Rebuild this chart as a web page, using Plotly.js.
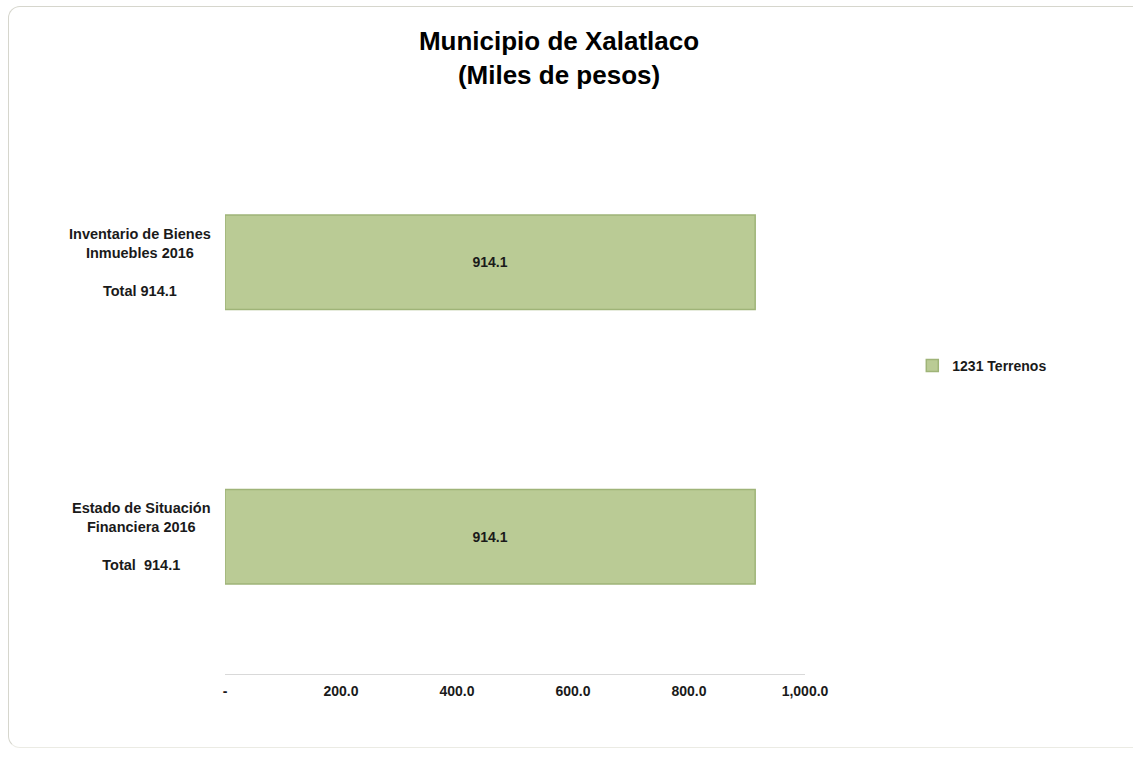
<!DOCTYPE html>
<html>
<head>
<meta charset="utf-8">
<script src="https://cdn.plot.ly/plotly-3.0.1.min.js"></script>
<style>
  html, body { margin: 0; padding: 0; background: #ffffff; }
  #wrap { position: relative; width: 1133px; height: 757px; overflow: hidden; }
  #chart { position: absolute; left: 0; top: 0; width: 1133px; height: 757px; }
  #frame { position: absolute; left: 8px; top: 6px; width: 1140px; height: 742px;
           border: 1px solid #d6d6cd; border-bottom-color: #ebebe4; border-radius: 12px;
           pointer-events: none; box-sizing: border-box; }
</style>
</head>
<body>
<div id="wrap">
  <div id="chart"></div>
  <div id="frame"></div>
</div>
<script>
// Data
const categories = ["Estado de Situación Financiera 2016", "Inventario de Bienes Inmuebles 2016"];
const categoryLabels = [
  "Estado de Situación<br>Financiera 2016<br><br>Total  914.1",
  "Inventario de Bienes<br>Inmuebles 2016<br><br>Total 914.1"
];
const seriesName = "1231 Terrenos";
const seriesValues = [914.1, 914.1];
const valueLabels = ["914.1", "914.1"];
const xTickVals = [0, 200, 400, 600, 800, 1000];
const xTickText = ["-", "200.0", "400.0", "600.0", "800.0", "1,000.0"];

const FONT = "Liberation Sans, Arial, sans-serif";

const trace = {
  type: "bar",
  orientation: "h",
  name: seriesName,
  y: categories,
  x: seriesValues,
  text: valueLabels,
  textposition: "inside",
  insidetextanchor: "middle",
  textangle: 0,
  textfont: { family: FONT, size: 14, color: "#1a1a1a", weight: "bold" },
  marker: { color: "#bacb95", line: { color: "#9fb478", width: 1.5 } },
  width: 0.345,
  hoverinfo: "skip"
};

const annotations = categories.map((c, i) => ({
  xref: "paper", yref: "y", x: 0, y: c,
  xanchor: "right", yanchor: "middle", xshift: -12,
  align: "center", showarrow: false,
  text: categoryLabels[i],
  font: { family: FONT, size: 14.5, color: "#1a1a1a", weight: "bold" }
}));

const layout = {
  width: 1133, height: 757,
  paper_bgcolor: "rgba(0,0,0,0)",
  plot_bgcolor: "rgba(0,0,0,0)",
  margin: { l: 225, r: 328, t: 125, b: 83 },
  showlegend: true,
  title: {
    text: "Municipio de Xalatlaco<br>(Miles de pesos)",
    font: { family: FONT, size: 26, color: "#000000", weight: "bold" },
    xref: "container", x: 0.4934, xanchor: "center",
    yref: "container", y: 0.934, yanchor: "middle"
  },
  xaxis: {
    range: [0, 1000],
    tickvals: xTickVals,
    ticktext: xTickText,
    showgrid: false,
    zeroline: false,
    showline: true,
    linecolor: "#d9d9d9",
    linewidth: 1,
    ticks: "",
    ticklabelstandoff: 4,
    tickfont: { family: FONT, size: 14, color: "#1a1a1a", weight: "bold" },
    fixedrange: true
  },
  yaxis: {
    type: "category",
    categoryorder: "array",
    categoryarray: categories,
    range: [-0.5, 1.5],
    showticklabels: false,
    showgrid: false,
    zeroline: false,
    showline: false,
    ticks: "",
    fixedrange: true
  },
  legend: {
    x: 1.185, xanchor: "left",
    y: 0.561, yanchor: "middle",
    font: { family: FONT, size: 14, color: "#1a1a1a", weight: "bold" },
    bgcolor: "rgba(0,0,0,0)",
    itemwidth: 30
  },
  annotations: annotations,
  bargap: 0.6
};

Plotly.newPlot("chart", [trace], layout, { displayModeBar: false, staticPlot: true });
</script>
</body>
</html>
